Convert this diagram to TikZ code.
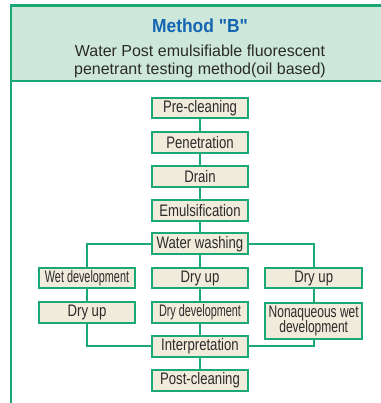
\documentclass[tikz,border=0pt]{standalone}
\usepackage{fontspec}
\setmainfont{Liberation Sans}
\newfontfamily\boxfont{Liberation Sans}[FakeStretch=0.79]
\newfontfamily\narrowfont{Liberation Sans}[FakeStretch=0.65]
\newfontfamily\semifont{Liberation Sans}[FakeStretch=0.72]
\newfontfamily\titlefont{Liberation Sans}[FakeStretch=0.92]
\definecolor{pgreen}{HTML}{1AA874}
\definecolor{hdrgreen}{HTML}{CDE7DA}
\definecolor{pbeige}{HTML}{F1EBDB}
\definecolor{ptitle}{HTML}{1466B2}
\definecolor{ptext}{HTML}{2B2B2B}
\tikzset{
  stepbox/.style={draw=pgreen, fill=pbeige, line width=1.5pt, minimum width=72.5pt,
    minimum height=15.5pt, inner sep=1pt, text=ptext,
    font=\boxfont\fontsize{12.5}{11.7}\selectfont},
  link/.style={draw=pgreen, line width=1.5pt},
  frameline/.style={draw=pgreen, line width=1.6pt}
}
\begin{document}
\begin{tikzpicture}[x=0.75pt,y=-0.75pt]
  \useasboundingbox (0,0) rectangle (381,403);
  \begin{scope}
    \clip (0,0) rectangle (381,403);
    \fill[hdrgreen] (11,5.5) rectangle (400,81);
    \draw[frameline] (400,5.5) -- (11,5.5) -- (11,420);
    \draw[frameline] (11,81) -- (400,81);
  \end{scope}

  % header
  \node[anchor=base, text=ptitle, font=\titlefont\bfseries\fontsize{14.2}{16}\selectfont] (title) at (200,32.7) {Method "B"};
  \node[anchor=base, text=ptext, font=\fontsize{12}{14}\selectfont] (sub1) at (200,56) {Water Post emulsifiable fluorescent};
  \node[anchor=base, text=ptext, font=\fontsize{12}{14}\selectfont] (sub2) at (200,74.6) {penetrant testing method(oil based)};

  % main chain
  \node[stepbox] (pre) at (200,108) {Pre-cleaning};
  \node[stepbox] (pen) at (200,142.5) {Penetration};
  \node[stepbox] (drain) at (200,176.2) {Drain};
  \node[stepbox] (emul) at (200,210.3) {Emulsification};
  \node[stepbox] (wash) at (200,243.8) {Water washing};

  % three branches
  \node[stepbox, font=\narrowfont\fontsize{12.5}{11.7}\selectfont] (wetdev) at (87,278) {Wet development};
  \node[stepbox] (dryL) at (87,312.2) {Dry up};
  \node[stepbox] (dryM) at (200,278) {Dry up};
  \node[stepbox, font=\narrowfont\fontsize{12.5}{11.7}\selectfont] (drydev) at (200,312.2) {Dry development};
  \node[stepbox] (dryR) at (313.7,278) {Dry up};
  \node[stepbox, anchor=north, minimum height=27.2pt, align=center,
    font=\semifont\fontsize{12.5}{11.7}\selectfont] (nonaq) at (313.7,301.7) {Nonaqueous wet\\development};

  \node[stepbox] (interp) at (200,346.3) {Interpretation};
  \node[stepbox] (post) at (200,380.3) {Post-cleaning};

  % connectors
  \draw[link] (pre) -- (pen);
  \draw[link] (pen) -- (drain);
  \draw[link] (drain) -- (emul);
  \draw[link] (emul) -- (wash);
  \draw[link] (wash) -- (dryM);
  \draw[link] (wash.west) -| (wetdev.north);
  \draw[link] (wash.east) -| (dryR.north);
  \draw[link] (wetdev) -- (dryL);
  \draw[link] (dryM) -- (drydev);
  \draw[link] (dryR) -- (nonaq);
  \draw[link] (drydev) -- (interp);
  \draw[link] (dryL.south) |- (interp.west);
  \draw[link] (nonaq.south) |- (interp.east);
  \draw[link] (interp) -- (post);
\end{tikzpicture}
\end{document}
